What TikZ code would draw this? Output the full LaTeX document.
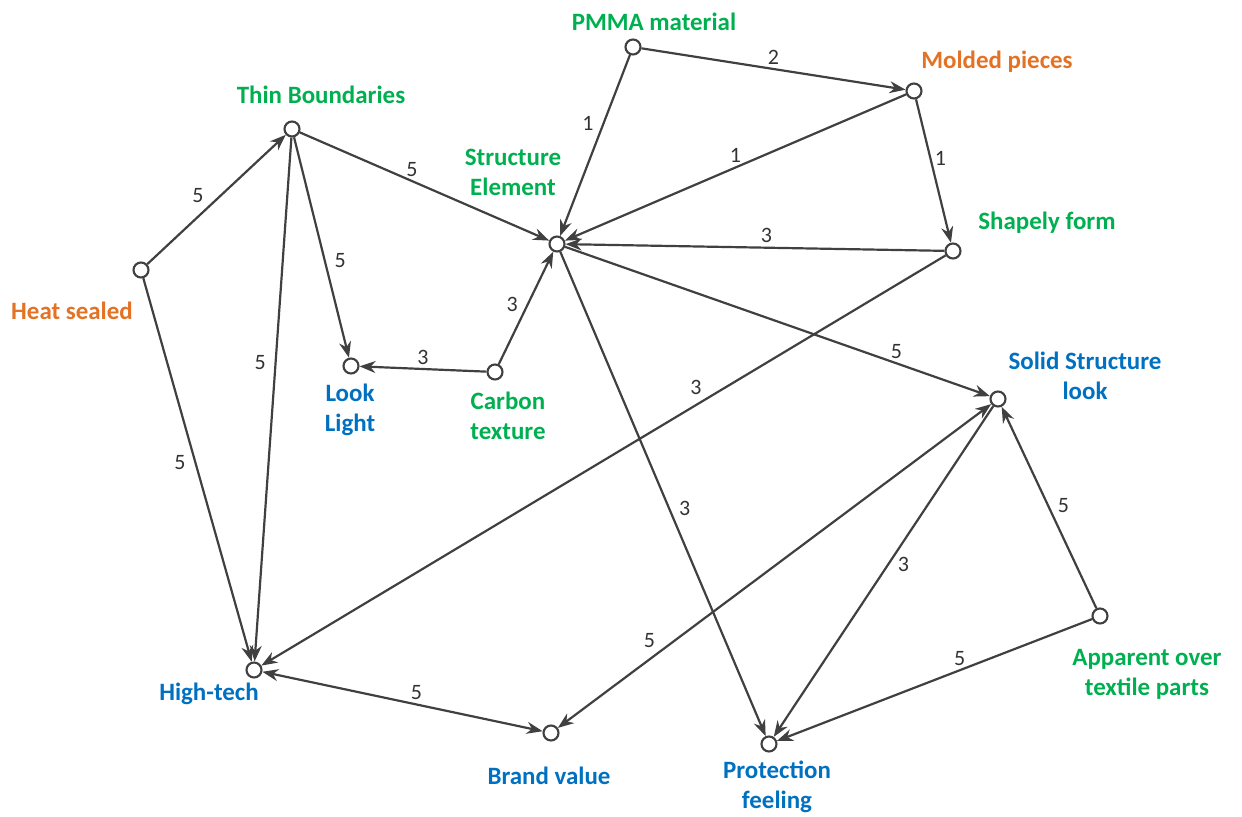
\documentclass[tikz,border=0pt]{standalone}
\usepackage{fontspec}
\setmainfont{Carlito}
\usetikzlibrary{arrows.meta}
\definecolor{lblgreen}{RGB}{0,176,80}
\definecolor{lblorange}{RGB}{228,114,36}
\definecolor{lblblue}{RGB}{0,112,192}
\definecolor{edgegray}{RGB}{64,64,64}
\tikzset{
  vtx/.style={circle,draw=edgegray,line width=1.2pt,fill=white,minimum size=0.3cm,inner sep=0pt},
  conceptlbl/.style={font=\fontsize{14.2}{17}\selectfont\bfseries,align=center,inner sep=1pt},
  greenname/.style={conceptlbl,text=lblgreen},
  orangename/.style={conceptlbl,text=lblorange},
  bluename/.style={conceptlbl,text=lblblue},
  link/.style={draw=edgegray,line width=1.25pt,-{Stealth[length=0.32cm,width=0.24cm]}},
  both/.style={link,{Stealth[length=0.32cm,width=0.24cm]}-{Stealth[length=0.32cm,width=0.24cm]}},
  wt/.style={font=\fontsize{12.5}{14}\selectfont,text=black!80,inner sep=2pt}
}

\begin{document}
\begin{tikzpicture}[x=0.02cm,y=-0.02cm]
  \useasboundingbox (0,0) rectangle (1242,817);
  % concept points
  \node[vtx] (pmma)   at (633,47)  {};
  \node[vtx] (molded) at (914,91)  {};
  \node[vtx] (thin)   at (292,129) {};
  \node[vtx] (heat)   at (141,270) {};
  \node[vtx] (struct) at (557,244) {};
  \node[vtx] (shape)  at (953,251) {};
  \node[vtx] (look)   at (351,366) {};
  \node[vtx] (carbon) at (495,372) {};
  \node[vtx] (solid)  at (998,399) {};
  \node[vtx] (appar)  at (1100,616) {};
  \node[vtx] (hitech) at (254,670) {};
  \node[vtx] (brand)  at (551,733) {};
  \node[vtx] (protect) at (769,744) {};
  % names
  \node[greenname]  (pmmaT)   at (654,22)  {PMMA material};
  \node[orangename] (moldedT) at (997,62)  {Molded pieces};
  \node[greenname]  (thinT)   at (321,95)  {Thin Boundaries};
  \node[orangename] (heatT)   at (72,311)  {Heat sealed};
  \node[greenname]  (structT) at (513,172) {Structure\\Element};
  \node[greenname]  (shapeT)  at (1047,223) {Shapely form};
  \node[bluename]   (lookT)   at (350,410) {Look\\Light};
  \node[greenname]  (carbonT) at (508,416) {Carbon\\texture};
  \node[bluename]   (solidT)  at (1085,376) {Solid Structure\\look};
  \node[greenname]  (apparT)  at (1147,674) {Apparent over\\textile parts};
  \node[bluename]   (hitechT) at (209,694) {High-tech};
  \node[bluename]   (brandT)  at (549,776) {Brand value};
  \node[bluename]   (protectT) at (777,787) {Protection\\feeling};
  % weighted links
  \draw[link] (pmma) -- (molded) node[wt,pos=0.5,above] {2};
  \draw[link] (pmma) -- (struct) node[wt,pos=0.38,left=3pt] {1};
  \draw[link] (molded) -- (struct) node[wt,pos=0.5,above] {1};
  \draw[link] (molded) -- (shape) node[wt,pos=0.41,right] {1};
  \draw[link] (shape) -- (struct) node[wt,pos=0.47,above] {3};
  \draw[link] (thin) -- (struct) node[wt,pos=0.45,above] {5};
  \draw[link] (heat) -- (thin) node[wt,pos=0.44,above left] {5};
  \draw[link] (thin) -- (look) node[wt,pos=0.56,right=3pt] {5};
  \draw[link] (thin) -- (hitech) node[wt,pos=0.43,left=3pt] {5};
  \draw[link] (heat) -- (hitech) node[wt,pos=0.48,left=3pt] {5};
  \draw[link] (carbon) -- (look) node[wt,pos=0.5,above] {3};
  \draw[link] (carbon) -- (struct) node[wt,pos=0.53,left=3pt] {3};
  \draw[link] (shape) -- (hitech) node[wt,pos=0.35,above left] {3};
  \draw[link] (struct) -- (solid) node[wt,pos=0.78,above] {5};
  \draw[link] (struct) -- (protect) node[wt,pos=0.53,right=3pt] {3};
  \draw[both] (hitech) -- (brand) node[wt,pos=0.55,above] {5};
  \draw[both] (brand) -- (solid) node[wt,pos=0.235,above left] {5};
  \draw[link] (solid) -- (protect) node[wt,pos=0.48,right=3pt] {3};
  \draw[link] (appar) -- (solid) node[wt,pos=0.51,right=3pt] {5};
  \draw[link] (appar) -- (protect) node[wt,pos=0.42,above] {5};
\end{tikzpicture}
\end{document}
